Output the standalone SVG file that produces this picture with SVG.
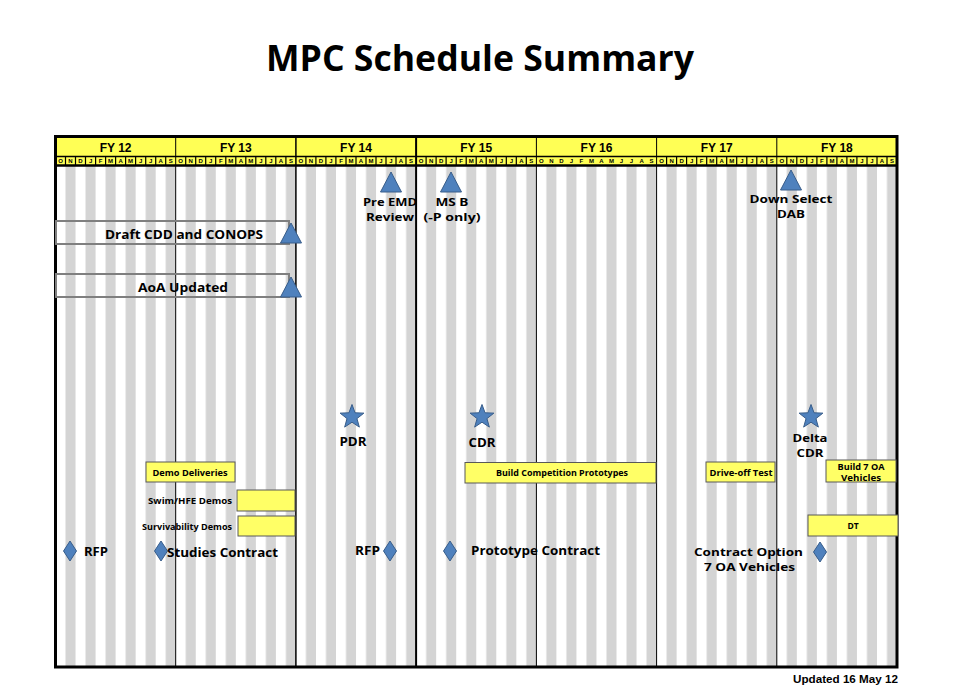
<svg xmlns="http://www.w3.org/2000/svg" width="960" height="696" viewBox="0 0 960 696">
<defs>
<pattern id="stripes" patternUnits="userSpaceOnUse" x="55.5" y="0" width="20.036" height="10">
<rect x="10.018" y="0" width="10.018" height="10" fill="#D4D4D4"/>
</pattern>
<polygon id="star" points="0,-12.5 3.06,-4.21 11.89,-3.86 4.95,1.61 7.35,10.11 0,5.2 -7.35,10.11 -4.95,1.61 -11.89,-3.86 -3.06,-4.21"/>
<polygon id="tri" points="0,0 10.5,20 -10.5,20"/>
<polygon id="dia" points="0,-10 6.5,0 0,10 -6.5,0"/>
</defs>
<style>
.lbl{font-family:"Open Sans","Noto Sans","Liberation Sans",sans-serif;font-weight:700;fill:#000}
.hdr{font-family:"Liberation Sans",Arial,sans-serif;font-weight:700;fill:#000}
.mon{font-family:"Liberation Sans",Arial,sans-serif;font-weight:700;font-size:6px;fill:#000;text-anchor:middle}
.blue{fill:#4F81BD;stroke:#385D8A;stroke-width:1}
.bar{fill:#FFFF66;stroke:#595959;stroke-width:1}
.box{fill:none;stroke:#7F7F7F;stroke-width:2}
.fy{stroke:#000;stroke-width:1}
</style>
<rect width="960" height="696" fill="#fff"/>
<text x="480" y="71" class="lbl" font-size="36" text-anchor="middle" textLength="428" lengthAdjust="spacingAndGlyphs">MPC Schedule Summary</text>

<g id="chart">
<rect x="55.5" y="166" width="841.5" height="501" fill="url(#stripes)"/>
<rect x="55.5" y="137" width="841.5" height="19" fill="#FFFF55"/>
<rect x="55.5" y="157" width="841.5" height="8" fill="#FFFF55"/>
<line x1="55" y1="156.5" x2="897" y2="156.5" stroke="#000" stroke-width="1.5"/>
<line x1="55" y1="165.5" x2="897" y2="165.5" stroke="#000" stroke-width="2.5"/>
<g class="fy">
<line x1="175.7" y1="137" x2="175.7" y2="667"/>
<line x1="295.9" y1="137" x2="295.9" y2="667" stroke-width="1.5"/>
<line x1="416.1" y1="137" x2="416.1" y2="667" stroke-width="2"/>
<line x1="536.4" y1="137" x2="536.4" y2="667"/>
<line x1="656.6" y1="137" x2="656.6" y2="667"/>
<line x1="776.8" y1="137" x2="776.8" y2="667"/>
</g>
<g class="hdr" font-size="12" text-anchor="middle">
<text x="115.6" y="152">FY 12</text>
<text x="235.8" y="152">FY 13</text>
<text x="356" y="152">FY 14</text>
<text x="476.2" y="152">FY 15</text>
<text x="596.5" y="152">FY 16</text>
<text x="716.7" y="152">FY 17</text>
<text x="836.9" y="152">FY 18</text>
</g>
<g id="months">
<g stroke="#000" stroke-width="1.2">
<path d="M65.5 157v8M75.5 157v8M85.5 157v8M95.6 157v8M105.6 157v8M115.6 157v8M125.6 157v8M135.6 157v8M145.7 157v8M155.7 157v8M165.7 157v8
M185.7 157v8M195.7 157v8M205.7 157v8M215.7 157v8M225.8 157v8M235.8 157v8M245.8 157v8M255.8 157v8M265.8 157v8M275.8 157v8M285.9 157v8
M305.9 157v8M315.9 157v8M325.9 157v8M335.9 157v8M346 157v8M356 157v8M366 157v8M376 157v8M386 157v8M396 157v8M406 157v8
M426.1 157v8M436.1 157v8M446.1 157v8M456.2 157v8M466.2 157v8M476.2 157v8M486.2 157v8M496.2 157v8M506.3 157v8M516.3 157v8M526.3 157v8
M666.6 157v8M676.6 157v8M686.6 157v8M696.7 157v8M706.7 157v8M716.7 157v8M726.7 157v8M736.7 157v8M746.8 157v8M756.8 157v8M766.8 157v8
M786.8 157v8M796.8 157v8M806.8 157v8M816.9 157v8M826.9 157v8M836.9 157v8M846.9 157v8M856.9 157v8M867 157v8M877 157v8M887 157v8"/>
</g>
<text class="mon" y="163.3"><tspan x="60.5">O</tspan><tspan x="70.5">N</tspan><tspan x="80.5">D</tspan><tspan x="90.6">J</tspan><tspan x="100.6">F</tspan><tspan x="110.6">M</tspan><tspan x="120.6">A</tspan><tspan x="130.6">M</tspan><tspan x="140.7">J</tspan><tspan x="150.7">J</tspan><tspan x="160.7">A</tspan><tspan x="170.7">S</tspan></text>
<text class="mon" y="163.3"><tspan x="180.7">O</tspan><tspan x="190.7">N</tspan><tspan x="200.7">D</tspan><tspan x="210.7">J</tspan><tspan x="220.8">F</tspan><tspan x="230.8">M</tspan><tspan x="240.8">A</tspan><tspan x="250.8">M</tspan><tspan x="260.8">J</tspan><tspan x="270.8">J</tspan><tspan x="280.9">A</tspan><tspan x="290.9">S</tspan></text>
<text class="mon" y="163.3"><tspan x="300.9">O</tspan><tspan x="310.9">N</tspan><tspan x="320.9">D</tspan><tspan x="330.9">J</tspan><tspan x="341">F</tspan><tspan x="351">M</tspan><tspan x="361">A</tspan><tspan x="371">M</tspan><tspan x="381">J</tspan><tspan x="391">J</tspan><tspan x="401">A</tspan><tspan x="411.1">S</tspan></text>
<text class="mon" y="163.3"><tspan x="421.1">O</tspan><tspan x="431.1">N</tspan><tspan x="441.1">D</tspan><tspan x="451.2">J</tspan><tspan x="461.2">F</tspan><tspan x="471.2">M</tspan><tspan x="481.2">A</tspan><tspan x="491.2">M</tspan><tspan x="501.3">J</tspan><tspan x="511.3">J</tspan><tspan x="521.3">A</tspan><tspan x="531.3">S</tspan></text>
<text class="mon" y="163.3"><tspan x="541.4">O</tspan><tspan x="551.4">N</tspan><tspan x="561.4">D</tspan><tspan x="571.4">J</tspan><tspan x="581.4">F</tspan><tspan x="591.5">M</tspan><tspan x="601.5">A</tspan><tspan x="611.5">M</tspan><tspan x="621.5">J</tspan><tspan x="631.5">J</tspan><tspan x="641.6">A</tspan><tspan x="651.6">S</tspan></text>
<text class="mon" y="163.3"><tspan x="661.6">O</tspan><tspan x="671.6">N</tspan><tspan x="681.6">D</tspan><tspan x="691.7">J</tspan><tspan x="701.7">F</tspan><tspan x="711.7">M</tspan><tspan x="721.7">A</tspan><tspan x="731.7">M</tspan><tspan x="741.8">J</tspan><tspan x="751.8">J</tspan><tspan x="761.8">A</tspan><tspan x="771.8">S</tspan></text>
<text class="mon" y="163.3"><tspan x="781.8">O</tspan><tspan x="791.8">N</tspan><tspan x="801.9">D</tspan><tspan x="811.9">J</tspan><tspan x="821.9">F</tspan><tspan x="831.9">M</tspan><tspan x="841.9">A</tspan><tspan x="852">M</tspan><tspan x="862">J</tspan><tspan x="872">J</tspan><tspan x="882">A</tspan><tspan x="892">S</tspan></text>
</g>
<rect x="55.5" y="136.5" width="841.5" height="530.5" fill="none" stroke="#000" stroke-width="3"/>
</g>

<g id="draft-cdd">
<rect class="box" x="56" y="221" width="233" height="23"/>
<text class="lbl" x="184" y="238.5" font-size="12" text-anchor="middle" textLength="158" lengthAdjust="spacingAndGlyphs">Draft CDD and CONOPS</text>
<use href="#tri" class="blue" x="291" y="223"/>
</g>
<g id="aoa">
<rect class="box" x="56" y="274" width="233" height="23"/>
<text class="lbl" x="183" y="292" font-size="12" text-anchor="middle" textLength="90" lengthAdjust="spacingAndGlyphs">AoA Updated</text>
<use href="#tri" class="blue" x="291" y="277"/>
</g>

<g id="pre-emd">
<use href="#tri" class="blue" x="391" y="172"/>
<text class="lbl" font-size="11" text-anchor="middle"><tspan x="390" y="206" textLength="54" lengthAdjust="spacingAndGlyphs">Pre EMD</tspan><tspan x="390" y="221" textLength="48" lengthAdjust="spacingAndGlyphs">Review</tspan></text>
</g>
<g id="ms-b">
<use href="#tri" class="blue" x="451" y="172"/>
<text class="lbl" font-size="11" text-anchor="middle"><tspan x="452" y="206" textLength="33" lengthAdjust="spacingAndGlyphs">MS B</tspan><tspan x="452" y="221" textLength="57" lengthAdjust="spacingAndGlyphs">(-P only)</tspan></text>
</g>
<g id="down-select">
<use href="#tri" class="blue" x="791" y="170"/>
<text class="lbl" font-size="11" text-anchor="middle"><tspan x="791" y="203" textLength="83" lengthAdjust="spacingAndGlyphs">Down Select</tspan><tspan x="791" y="218" textLength="28" lengthAdjust="spacingAndGlyphs">DAB</tspan></text>
</g>

<g id="pdr">
<use href="#star" class="blue" x="352" y="417"/>
<text class="lbl" x="353" y="446" font-size="12" text-anchor="middle" textLength="27" lengthAdjust="spacingAndGlyphs">PDR</text>
</g>
<g id="cdr">
<use href="#star" class="blue" x="482" y="417"/>
<text class="lbl" x="482" y="447" font-size="12" text-anchor="middle" textLength="27" lengthAdjust="spacingAndGlyphs">CDR</text>
</g>
<g id="delta-cdr">
<use href="#star" class="blue" x="811" y="417"/>
<text class="lbl" font-size="11" text-anchor="middle"><tspan x="810" y="442" textLength="35" lengthAdjust="spacingAndGlyphs">Delta</tspan><tspan x="810" y="457" textLength="27" lengthAdjust="spacingAndGlyphs">CDR</tspan></text>
</g>

<g id="demo-deliveries">
<rect class="bar" x="146" y="462" width="89" height="20"/>
<text class="lbl" x="190" y="475.5" font-size="8.5" text-anchor="middle" textLength="75" lengthAdjust="spacingAndGlyphs">Demo Deliveries</text>
</g>
<g id="swim-hfe">
<rect class="bar" x="237" y="490" width="58" height="21"/>
<text class="lbl" x="232" y="504" font-size="8.5" text-anchor="end" textLength="84" lengthAdjust="spacingAndGlyphs">Swim/HFE Demos</text>
</g>
<g id="survivability">
<rect class="bar" x="238" y="516" width="57" height="20"/>
<text class="lbl" x="232" y="529.5" font-size="8.5" text-anchor="end" textLength="90" lengthAdjust="spacingAndGlyphs">Survivability Demos</text>
</g>
<g id="build-competition">
<rect class="bar" x="465" y="462.5" width="191" height="20.5"/>
<text class="lbl" x="562" y="476" font-size="8.5" text-anchor="middle" textLength="132" lengthAdjust="spacingAndGlyphs">Build Competition Prototypes</text>
</g>
<g id="drive-off">
<rect class="bar" x="706" y="462" width="69" height="20"/>
<text class="lbl" x="741" y="476" font-size="8.5" text-anchor="middle" textLength="63" lengthAdjust="spacingAndGlyphs">Drive-off Test</text>
</g>
<g id="build-7oa">
<rect class="bar" x="826" y="460" width="70" height="22"/>
<text class="lbl" font-size="8" text-anchor="middle"><tspan x="861" y="469.5" textLength="47" lengthAdjust="spacingAndGlyphs">Build 7 OA</tspan><tspan x="861" y="480.5" textLength="40" lengthAdjust="spacingAndGlyphs">Vehicles</tspan></text>
</g>
<g id="dt">
<rect class="bar" x="808" y="515" width="90" height="21"/>
<text class="lbl" x="853" y="529" font-size="8.5" text-anchor="middle">DT</text>
</g>

<g id="rfp-1">
<use href="#dia" class="blue" x="70" y="551"/>
<text class="lbl" x="84" y="556" font-size="12.5" textLength="24" lengthAdjust="spacingAndGlyphs">RFP</text>
</g>
<g id="studies-contract">
<use href="#dia" class="blue" x="161" y="551"/>
<text class="lbl" x="167" y="557" font-size="12.5" textLength="111" lengthAdjust="spacingAndGlyphs">Studies Contract</text>
</g>
<g id="rfp-2">
<use href="#dia" class="blue" x="390" y="551"/>
<text class="lbl" x="355" y="555" font-size="12.5" textLength="25" lengthAdjust="spacingAndGlyphs">RFP</text>
</g>
<g id="prototype-contract">
<use href="#dia" class="blue" x="450" y="551"/>
<text class="lbl" x="471" y="555" font-size="12.5" textLength="129" lengthAdjust="spacingAndGlyphs">Prototype Contract</text>
</g>
<g id="contract-option">
<use href="#dia" class="blue" x="820" y="552"/>
<text class="lbl" font-size="11" text-anchor="middle"><tspan x="748.5" y="555.5" textLength="109" lengthAdjust="spacingAndGlyphs">Contract Option</tspan><tspan x="749.5" y="570.5" textLength="91" lengthAdjust="spacingAndGlyphs">7 OA Vehicles</tspan></text>
</g>

<text class="hdr" x="898" y="683" font-size="11" text-anchor="end" textLength="105" lengthAdjust="spacingAndGlyphs">Updated 16 May 12</text>
</svg>
